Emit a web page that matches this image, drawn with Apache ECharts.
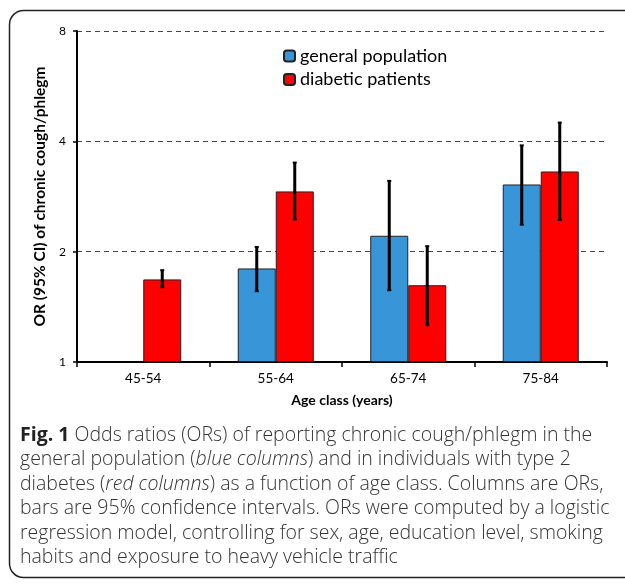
<!DOCTYPE html>
<html>
<head>
<meta charset="utf-8">
<script src="https://cdn.jsdelivr.net/npm/echarts@6/dist/echarts.min.js"></script>
<style>html,body{margin:0;padding:0;background:#fff}#c{width:625px;height:584px}</style>
</head>
<body>
<div id="c"></div>
<script>
var categories = ['45-54', '55-64', '65-74', '75-84'];
var generalOR   = [null, 1.80, 2.21, 3.05];
var generalLow  = [null, 1.56, 1.57, 2.37];
var generalHigh = [null, 2.06, 3.12, 3.90];
var diabeticOR   = [1.68, 2.92, 1.62, 3.31];
var diabeticLow  = [1.60, 2.45, 1.26, 2.44];
var diabeticHigh = [1.78, 3.50, 2.07, 4.50];
var yTicks = [1, 2, 4, 8];
var captionLines = [
  '{b|Fig. 1} Odds ratios (ORs) of reporting chronic cough/phlegm in the',
  'general population ({i|blue columns}) and in individuals with type 2',
  'diabetes ({i|red columns}) as a function of age class. Columns are ORs,',
  'bars are 95% confidence intervals. ORs were computed by a logistic',
  'regression model, controlling for sex, age, education level, smoking',
  'habits and exposure to heavy vehicle traffic'
];

var BAR_W = 38;
function errData(low, high) {
  var out = [];
  for (var i = 0; i < low.length; i++) {
    if (low[i] != null) out.push([i, low[i], high[i]]);
  }
  return out;
}
function errRender(offset) {
  return function (params, api) {
    var lo = api.coord([api.value(0), api.value(1)]);
    var hi = api.coord([api.value(0), api.value(2)]);
    var x = lo[0] + offset;
    var cap = 2;
    return {
      type: 'group',
      children: [
        {type: 'line', shape: {x1: x, y1: lo[1], x2: x, y2: hi[1]}, style: {stroke: '#000', lineWidth: 3}},
        {type: 'line', shape: {x1: x - cap, y1: lo[1], x2: x + cap, y2: lo[1]}, style: {stroke: '#000', lineWidth: 2}},
        {type: 'line', shape: {x1: x - cap, y1: hi[1], x2: x + cap, y2: hi[1]}, style: {stroke: '#000', lineWidth: 2}}
      ]
    };
  };
}

var chartFont = 'Lato';
var capSize = 19.5;
var graphics = [{
  type: 'rect', silent: true,
  shape: {x: 9.5, y: 10.5, width: 700, height: 567, r: 14},
  style: {fill: 'none', stroke: '#222', lineWidth: 1.5}
}];
captionLines.forEach(function (t, i) {
  graphics.push({
    type: 'text', left: 20, top: 425 + i * 24.5, silent: true,
    style: {
      text: t, fill: '#333', font: '300 ' + capSize + 'px "Open Sans"',
      rich: {
        b: {fontWeight: 'bold', fontFamily: 'Open Sans', fontSize: capSize, fill: '#222'},
        i: {fontStyle: 'italic', fontFamily: 'Open Sans', fontSize: capSize, fontWeight: 300, fill: '#333'}
      }
    }
  });
});

var chart = echarts.init(document.getElementById('c'));
chart.setOption({
  animation: false,
  backgroundColor: '#fff',
  textStyle: {fontFamily: chartFont},
  grid: {left: 77, right: 18, top: 31, bottom: 222, containLabel: false},
  legend: {
    orient: 'vertical', left: 278, top: 42, itemWidth: 11, itemHeight: 11, itemGap: 5.5,
    data: ['general population', 'diabetic patients'],
    textStyle: {fontFamily: chartFont, fontSize: 18, color: '#000'}
  },
  xAxis: {
    type: 'category', data: categories,
    axisLine: {lineStyle: {color: '#000', width: 2}},
    axisTick: {show: true, length: 5, lineStyle: {color: '#000', width: 1.5}},
    axisLabel: {fontFamily: chartFont, fontSize: 13.5, color: '#000', margin: 10},
    name: 'Age class (years)', nameLocation: 'middle', nameGap: 31,
    nameTextStyle: {fontFamily: chartFont, fontWeight: 'bold', fontSize: 14, color: '#000'}
  },
  yAxis: {
    type: 'log', logBase: 2, min: 1, max: 8,
    axisLine: {show: true, lineStyle: {color: '#000', width: 2}},
    axisTick: {show: true, length: 4, lineStyle: {color: '#000', width: 1.5}},
    axisLabel: {fontFamily: chartFont, fontSize: 12, color: '#000', margin: 11,
      formatter: function (v) { return yTicks.indexOf(Math.round(v)) >= 0 ? String(Math.round(v)) : ''; }},
    splitLine: {show: true, lineStyle: {color: '#444', type: [5, 4], width: 1.2}},
    name: 'OR (95% CI) of chronic cough/phlegm', nameLocation: 'middle', nameGap: 25,
    nameTextStyle: {fontFamily: chartFont, fontWeight: 'bold', fontSize: 15.5, color: '#000'}
  },
  series: [
    {name: 'general population', type: 'bar', data: generalOR, barWidth: BAR_W, barGap: '0%',
     itemStyle: {color: '#3795D8', borderColor: '#222', borderWidth: 1}},
    {name: 'diabetic patients', type: 'bar', data: diabeticOR, barWidth: BAR_W, barGap: '0%',
     itemStyle: {color: '#FF0000', borderColor: '#222', borderWidth: 1}},
    {type: 'custom', name: 'gpCI', data: errData(generalLow, generalHigh),
     encode: {x: 0, y: [1, 2]}, renderItem: errRender(-BAR_W / 2), z: 5},
    {type: 'custom', name: 'dpCI', data: errData(diabeticLow, diabeticHigh),
     encode: {x: 0, y: [1, 2]}, renderItem: errRender(BAR_W / 2), z: 5}
  ],
  graphic: graphics
});
</script>
</body>
</html>
